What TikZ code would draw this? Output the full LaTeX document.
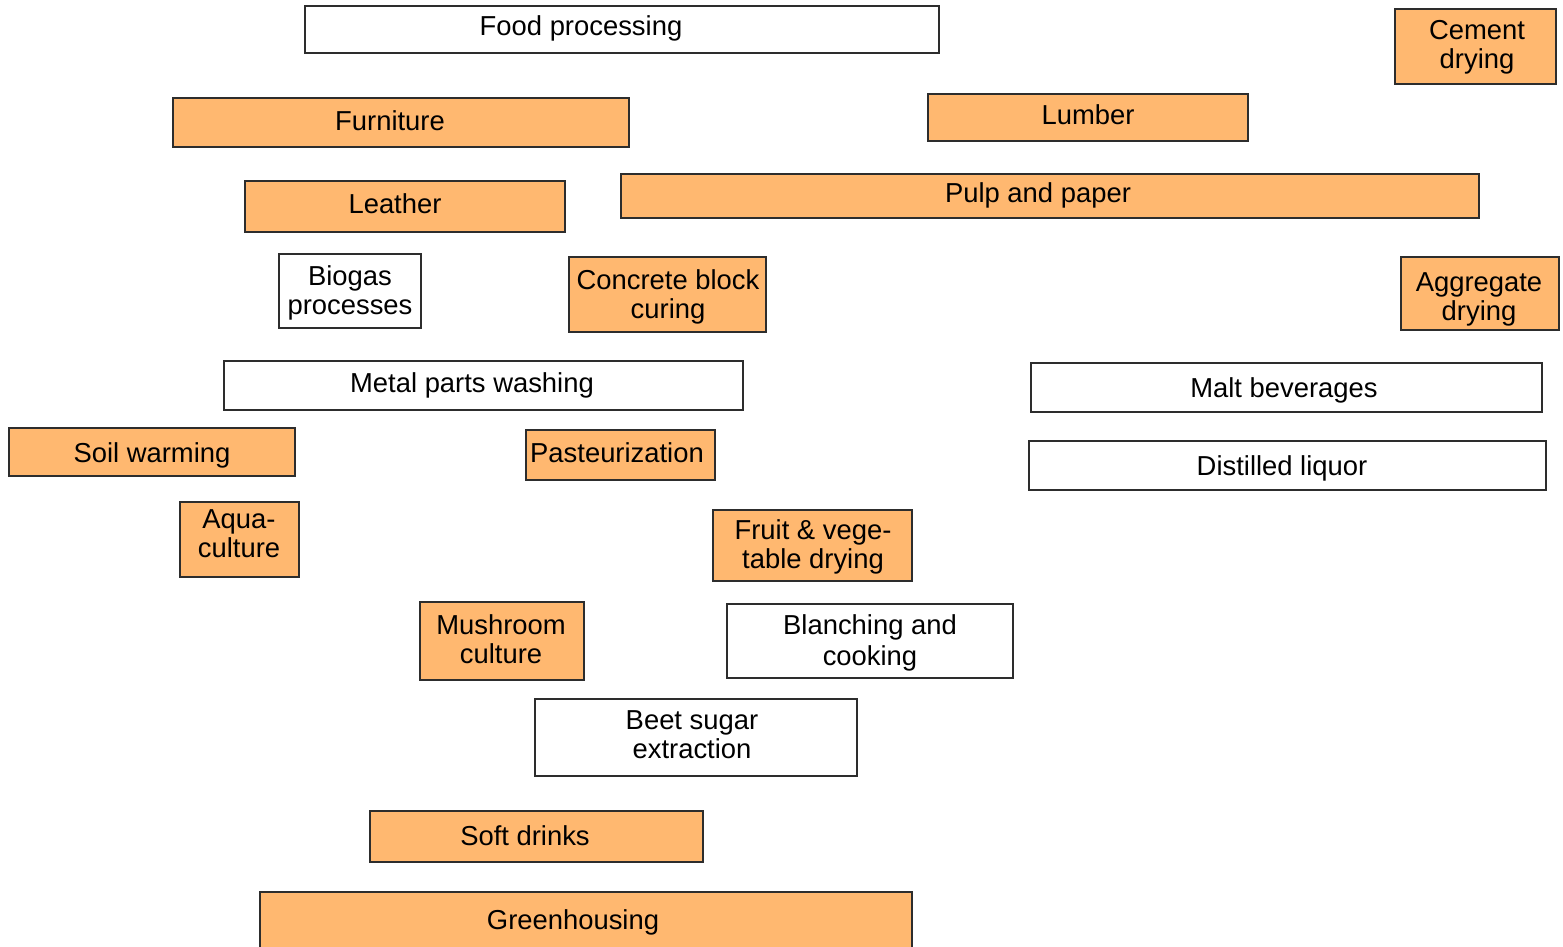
\documentclass[tikz,border=0pt]{standalone}
\usepackage{fontspec}
\setmainfont{Liberation Sans}
\definecolor{boxorange}{RGB}{255,184,112}
\definecolor{boxline}{RGB}{45,45,45}
\begin{document}
\begin{tikzpicture}[x=1pt,y=-1pt,
  base/.style={draw=boxline,line width=1.1pt,inner sep=0pt,rectangle},
  obox/.style={base,fill=boxorange},
  wbox/.style={base,fill=white},
  lbl/.style={inner sep=0pt,font=\fontsize{27.4}{29}\selectfont,text height=19.6pt,text depth=5.8pt,yshift=-2pt},
  lbl2/.style={inner sep=0pt,font=\fontsize{27.4}{29}\selectfont,align=center,yshift=-2pt}]
\useasboundingbox (0,0) rectangle (1563,946);
\begin{scope}
\clip (0,0) rectangle (1563,946);
% boxes
\node[wbox,minimum width=634pt,minimum height=47pt] (b1) at (622,29.5) {};
\node[obox,minimum width=161pt,minimum height=75pt] (b2) at (1475.5,46.5) {};
\node[obox,minimum width=456pt,minimum height=49pt] (b3) at (401,122.5) {};
\node[obox,minimum width=320pt,minimum height=47pt] (b4) at (1088,117.5) {};
\node[obox,minimum width=320pt,minimum height=51pt] (b5) at (405,206.5) {};
\node[obox,minimum width=858pt,minimum height=44pt] (b6) at (1050,196) {};
\node[wbox,minimum width=142pt,minimum height=74pt] (b7) at (350,291) {};
\node[obox,minimum width=197pt,minimum height=75pt] (b8) at (667.5,294.5) {};
\node[obox,minimum width=158pt,minimum height=73pt] (b9) at (1480,293.5) {};
\node[wbox,minimum width=519pt,minimum height=49pt] (b10) at (483.5,385.5) {};
\node[wbox,minimum width=511pt,minimum height=49pt] (b11) at (1286.5,387.5) {};
\node[obox,minimum width=286pt,minimum height=48pt] (b12) at (152,452) {};
\node[obox,minimum width=189pt,minimum height=50pt] (b13) at (620.5,455) {};
\node[wbox,minimum width=517pt,minimum height=49pt] (b14) at (1287.5,465.5) {};
\node[obox,minimum width=119pt,minimum height=75pt] (b15) at (239.5,539.5) {};
\node[obox,minimum width=199pt,minimum height=71pt] (b16) at (812.5,545.5) {};
\node[obox,minimum width=164pt,minimum height=78pt] (b17) at (502,641) {};
\node[wbox,minimum width=286pt,minimum height=74pt] (b18) at (870,641) {};
\node[wbox,minimum width=322pt,minimum height=77pt] (b19) at (696,737.5) {};
\node[obox,minimum width=333pt,minimum height=51pt] (b20) at (536.5,836.5) {};
\node[obox,minimum width=652pt,minimum height=68pt] (b21) at (586,926) {};
\end{scope}
% labels
\node[lbl] (t1) at (581,27) {Food processing};
\node[lbl2] (t2) at (1477,45) {Cement\\drying};
\node[lbl] (t3) at (390,122) {Furniture};
\node[lbl] (t4) at (1088,116) {Lumber};
\node[lbl] (t5) at (395,205) {Leather};
\node[lbl] (t6) at (1038,194) {Pulp and paper};
\node[lbl2] (t7) at (350,291) {Biogas\\processes};
\node[lbl2] (t8) at (668,295) {Concrete block\\curing};
\node[lbl2] (t9) at (1479,297) {Aggregate\\drying};
\node[lbl] (t10) at (472,384) {Metal parts washing};
\node[lbl] (t11) at (1284,389) {Malt beverages};
\node[lbl] (t12) at (152,454) {Soil warming};
\node[lbl] (t13) at (617,454) {Pasteurization};
\node[lbl] (t14) at (1282,467) {Distilled liquor};
\node[lbl2] (t15) at (239,532) {Aqua-\\culture};
\node[lbl2] (t16) at (813,545) {Fruit \& vege-\\table drying};
\node[lbl2] (t17) at (501,637) {Mushroom\\culture};
\node[lbl2,font=\fontsize{27.4}{31}\selectfont] (t18) at (870,641) {Blanching and\\cooking};
\node[lbl2] (t19) at (692,733) {Beet sugar\\extraction};
\node[lbl] (t20) at (525,837) {Soft drinks};
\node[lbl] (t21) at (573,921) {Greenhousing};
\end{tikzpicture}
\end{document}
